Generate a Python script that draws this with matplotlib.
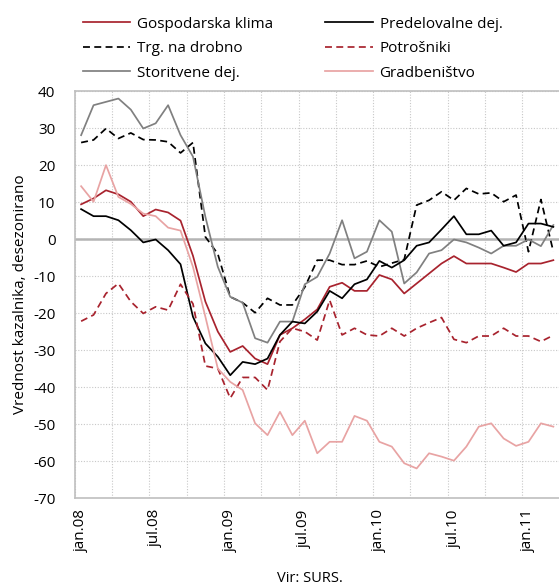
import matplotlib
matplotlib.use("Agg")
import matplotlib.pyplot as plt

plt.rcParams['font.family'] = ['Open Sans', 'DejaVu Sans']

# Monthly data jan.08 - mar.11
gospodarska = [9.4, 11, 13.2, 12.1, 10.1, 6.2, 8, 7.2, 5, -4.5,
               -16.9, -25, -30.5, -28.9, -32.3, -33.8, -25.9, -24.1, -21.7, -19,
               -12.9, -11.8, -14, -14, -9.7, -10.9, -14.7, -12, -9.3, -6.6,
               -4.6, -6.6, -6.6, -6.6, -7.7, -8.9, -6.6, -6.6, -5.7]
predelovalne = [8.1, 6.2, 6.2, 5.1, 2.4, -0.9, -0.1, -3, -6.8, -21,
                -28.2, -31.8, -36.8, -33.2, -33.8, -32.3, -25.9, -22.3, -22.8, -19.6,
                -14, -16, -12.2, -10.9, -5.9, -7.7, -5.7, -1.8, -0.9, 2.6,
                6.2, 1.3, 1.3, 2.3, -1.8, -0.9, 4.2, 4.2, 3.3]
trgovina = [26.1, 26.8, 29.9, 27.2, 28.7, 26.9, 26.8, 26.3, 23.3, 26.1,
            0.6, -4, -15.6, -17.2, -19.9, -16, -17.8, -17.8, -13, -5.7,
            -5.7, -6.9, -6.9, -5.9, -7.5, -6.5, -5.5, 9.2, 10.5, 12.8,
            10.5, 13.7, 12.2, 12.5, 10.1, 11.9, -3.4, 10.7, -3.4]
potrosniki = [-22.2, -20.5, -14.7, -12, -16.9, -20.1, -18.3, -19.2, -12.2, -17.5,
              -34.3, -35, -43, -37.4, -37.4, -40.8, -27.7, -24.1, -25, -27.3,
              -16.5, -25.9, -24.1, -25.9, -26.2, -24.1, -26.2, -24.1, -22.6, -21.2,
              -27.1, -28, -26.2, -26.2, -24.1, -26.2, -26.2, -27.7, -26]
storitvene = [28.1, 36.2, 37.1, 38, 35, 29.9, 31.3, 36.2, 28.1, 22.3,
              6, -7.5, -15.6, -17.2, -26.8, -28, -22.3, -22.3, -12.2, -10.2,
              -3.9, 5.1, -5.2, -3.4, 5.1, 2, -12, -9, -3.9, -3,
              -0.1, -0.9, -2.3, -3.9, -1.8, -1.8, -0.1, -1.9, 3.8]
gradbenistvo = [14.3, 10.1, 20, 11.4, 9.5, 6.9, 6.2, 3.1, 2.3, -7.5,
                -21, -35, -38.6, -40.8, -49.8, -53, -46.7, -53, -49.1, -57.9,
                -54.8, -54.8, -47.8, -49.1, -54.8, -56.1, -60.6, -62, -57.9, -58.8,
                -59.9, -56.1, -50.7, -49.8, -53.9, -55.9, -54.8, -49.8, -50.7]

tick_labels = ['jan.08', 'jul.08', 'jan.09', 'jul.09', 'jan.10', 'jul.10', 'jan.11']
y_ticks = [40, 30, 20, 10, 0, -10, -20, -30, -40, -50, -60, -70]

RED = '#a8232e'
PINK = '#e8a3a3'
GRAY = '#808080'

fig = plt.figure(figsize=(5.59, 5.88), dpi=100)
ax = fig.add_axes([0.134, 0.153, 0.867, 0.692])

n = len(gospodarska)
x = list(range(n))

# grid
for k in range(0, n + 1, 3):
    ax.axvline(k - 0.5, color='#c8c8c8', lw=0.8, ls=(0, (1, 1.5)), zorder=0)
for v in y_ticks:
    ax.axhline(v, color='#c8c8c8', lw=0.8, ls=(0, (1, 1.5)), zorder=0)
ax.axhline(0, color='#b4b4b4', lw=1.8, zorder=1)

lw = 1.25
series = [
    ('Gospodarska klima', gospodarska, dict(color=RED, ls='-')),
    ('Trg. na drobno', trgovina, dict(color='black', ls=(0, (4, 2.5)))),
    ('Storitvene dej.', storitvene, dict(color=GRAY, ls='-')),
    ('Predelovalne dej.', predelovalne, dict(color='black', ls='-')),
    ('Potrošniki', potrosniki, dict(color=RED, ls=(0, (4, 2.5)))),
    ('Gradbeništvo', gradbenistvo, dict(color=PINK, ls='-')),
]
handles = []
for name, data, st in series:
    ln, = ax.plot(x, data, lw=lw, zorder=3, **st)
    handles.append(ln)

ax.set_xlim(-0.5, n - 0.5)
ax.set_ylim(-70, 40)
ax.set_yticks(y_ticks)
ax.set_yticklabels([str(v) for v in y_ticks], fontsize=11)
ax.set_xticks(list(range(0, n, 6)))
ax.set_xticklabels(tick_labels, rotation=90, fontsize=11)
ax.tick_params(axis='x', length=0, pad=8)
ax.tick_params(axis='y', length=0, pad=14)

for s in ['top', 'left', 'bottom']:
    ax.spines[s].set_color('#bfbfbf')
    ax.spines[s].set_linewidth(1.2)
ax.spines['right'].set_visible(False)

ax.set_ylabel('Vrednost kazalnika, desezonirano', fontsize=11, labelpad=4)

fig.legend(handles, [s[0] for s in series], ncol=2, loc='upper left',
           bbox_to_anchor=(0.124, 0.995), frameon=False, fontsize=11,
           handlelength=3.1, handletextpad=0.45, columnspacing=3.4,
           labelspacing=0.62)

fig.text(0.555, 0.017, 'Vir: SURS.', ha='center', va='center', fontsize=10.5)

fig.savefig('out.png', dpi=100)
